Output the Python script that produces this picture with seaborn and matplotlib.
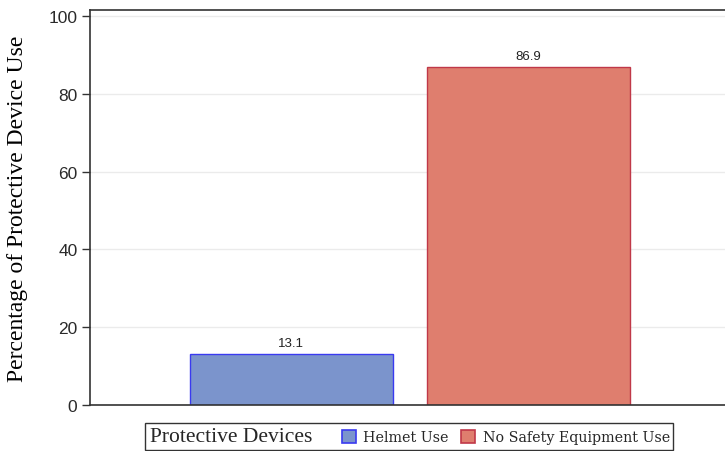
import matplotlib
matplotlib.use("Agg")
import matplotlib.pyplot as plt
import seaborn as sns
from matplotlib.patches import Patch, Rectangle

devices = ["Helmet Use", "No Safety Equipment Use"]
values = [13.1, 86.9]
fill_colors = ["#7b94cc", "#df7e6e"]
edge_colors = ["#3a3af0", "#c03848"]
yticks = [0, 20, 40, 60, 80, 100]

sns.set_style("white")
fig = plt.figure(figsize=(7.25, 4.52), dpi=100)
ax = fig.add_axes([90 / 725, 1 - 406 / 452, 635 / 725, 395 / 452])

sns.barplot(x=devices, y=values, hue=devices, palette=fill_colors,
            width=0.857, legend=False, ax=ax, saturation=1)
for patch, ec in zip(ax.patches, edge_colors):
    patch.set_edgecolor(ec)
    patch.set_linewidth(1.0)

for cont in ax.containers:
    ax.bar_label(cont, fmt="%.1f", padding=4, fontsize=9.5,
                 family="Liberation Sans", color="#222222")

ax.set_xlim(-0.85, 1.83)
ax.set_ylim(0, 101.6)
ax.set_yticks(yticks)
ax.set_yticklabels([str(t) for t in yticks], family="Liberation Sans",
                   fontsize=12.5, color="#2a2a2a")
ax.set_xticks([])
ax.set_xlabel("")
ax.set_ylabel("Percentage of Protective Device Use", family="Liberation Serif",
              fontsize=17, color="black", labelpad=15)
ax.tick_params(axis="y", direction="out", length=6, width=1, color="#333333",
               left=True, pad=3)
ax.yaxis.grid(True, color="#ebebeb", linewidth=1)
ax.set_axisbelow(True)
for side in ["left", "bottom", "top"]:
    ax.spines[side].set_color("#333333")
    ax.spines[side].set_linewidth(1.2)
ax.spines["right"].set_visible(False)

# legend below the axes, title inline on the left
box = Rectangle((145 / 725, 1 - 451 / 452), 528 / 725, 27 / 452,
                transform=fig.transFigure, fill=False, edgecolor="#333333",
                linewidth=1)
fig.add_artist(box)
fig.text(150 / 725, 1 - 438 / 452, "Protective Devices", family="Liberation Serif",
         fontsize=15.5, va="center", ha="left")
handles = [Patch(facecolor=fc, edgecolor=ec, linewidth=1.2)
           for fc, ec in zip(fill_colors, edge_colors)]
fig.legend(handles, devices, loc="center left",
           bbox_to_anchor=(342 / 725, 1 - 438 / 452), ncol=2, frameon=False,
           prop={"family": "DejaVu Serif", "size": 10.3}, handlelength=1.0,
           handleheight=1.0, handletextpad=0.5, columnspacing=0.85,
           borderpad=0, borderaxespad=0)

fig.savefig("out.png", dpi=100)
